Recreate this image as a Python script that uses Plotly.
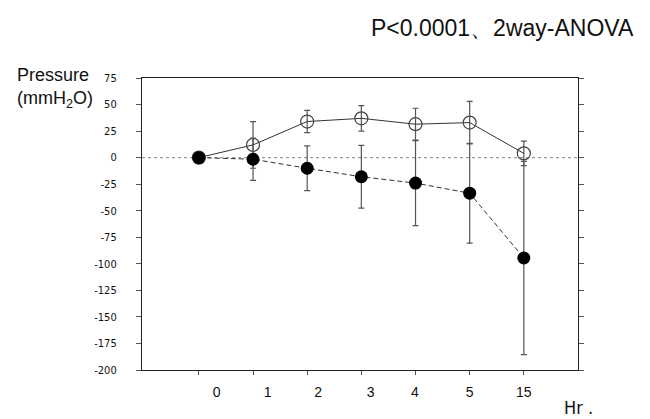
import plotly.graph_objects as go

categories = ["0", "1", "2", "3", "4", "5", "15"]
pos = [0, 1, 2, 3, 4, 5, 6]
label_pos = [0.33, 1.27, 2.2, 3.17, 3.99, 5.0, 6.0]

open_mean = [0, 12, 34, 37, 31.5, 33, 4]
open_err = [0, 22, 10.5, 12, 15, 20, 11.5]
filled_mean = [0, -1.5, -10, -18, -24, -33.5, -94.5]
filled_err = [0, 20, 21, 29.5, 40, 47, 91]

y_ticks = list(range(-200, 76, 25))

fig = go.Figure()

fig.add_trace(go.Scatter(
    x=pos, y=open_mean, mode="lines+markers",
    line=dict(color="#333333", width=1),
    marker=dict(symbol="circle-open", size=13, color="#444444", line=dict(width=1.2)),
    error_y=dict(type="data", array=open_err, color="#555555", thickness=1.2, width=3),
    showlegend=False,
))
fig.add_trace(go.Scatter(
    x=pos, y=filled_mean, mode="lines+markers",
    line=dict(color="#333333", width=1, dash="5px,3px"),
    marker=dict(symbol="circle", size=13, color="#000000"),
    error_y=dict(type="data", array=filled_err, color="#555555", thickness=1.2, width=3),
    showlegend=False,
))
# invisible trace for the label axis
fig.add_trace(go.Scatter(x=label_pos, y=[0]*7, xaxis="x2", mode="markers",
                         marker=dict(opacity=0), showlegend=False, hoverinfo="skip"))

fig.add_shape(type="line", xref="paper", x0=0, x1=1, yref="y", y0=0, y1=0,
              line=dict(color="#999999", width=1.2, dash="dot"), layer="below")

fig.update_layout(
    width=642, height=411,
    margin=dict(l=134, r=72, t=70, b=49),
    paper_bgcolor="white", plot_bgcolor="white",
    xaxis=dict(range=[-1.05, 7.0], tickvals=pos, ticktext=[""]*7,
               showline=True, linecolor="#222222", linewidth=1.2, mirror=True,
               ticks="outside", ticklen=4, tickcolor="#555555",
               showgrid=False, zeroline=False),
    xaxis2=dict(range=[-1.05, 7.0], overlaying="x", side="bottom", anchor="y",
                tickvals=label_pos, ticktext=categories,
                tickfont=dict(family="Liberation Sans, Arial", size=14, color="#111111"),
                ticks="", ticklabelstandoff=12,
                showline=False, showgrid=False, zeroline=False),
    yaxis=dict(range=[-200, 75], tickvals=y_ticks, ticktext=[str(v) for v in y_ticks],
               showline=True, linecolor="#222222", linewidth=1.2, mirror="ticks",
               ticks="outside", ticklen=5, tickcolor="#555555",
               tickfont=dict(family="DejaVu Sans Condensed, Liberation Sans Narrow, Arial", size=11, color="#111111"),
               ticklabelstandoff=17,
               showgrid=False, zeroline=False),
    annotations=[
        dict(text="P<0.0001、2way-ANOVA", xref="paper", yref="paper",
             x=1.0, y=1.0, xanchor="right", yanchor="middle",
             xshift=58, yshift=50, showarrow=False,
             font=dict(family="Liberation Sans, Arial", size=23, color="#111111")),
        dict(text="Pressure<br>(mmH<sub>2</sub>O)", xref="paper", yref="paper",
             x=0, y=1.0, xanchor="left", yanchor="middle", align="left",
             xshift=-127, yshift=-10, showarrow=False,
             font=dict(family="Liberation Sans, Arial", size=18, color="#111111")),
        dict(text="Hr .", xref="paper", yref="paper",
             x=1.0, y=0, xanchor="center", yanchor="middle",
             xshift=0, yshift=-37, showarrow=False,
             font=dict(family="DejaVu Sans Condensed, Liberation Sans Narrow, Arial", size=18, color="#111111")),
    ],
)

fig.write_html("out.html")
